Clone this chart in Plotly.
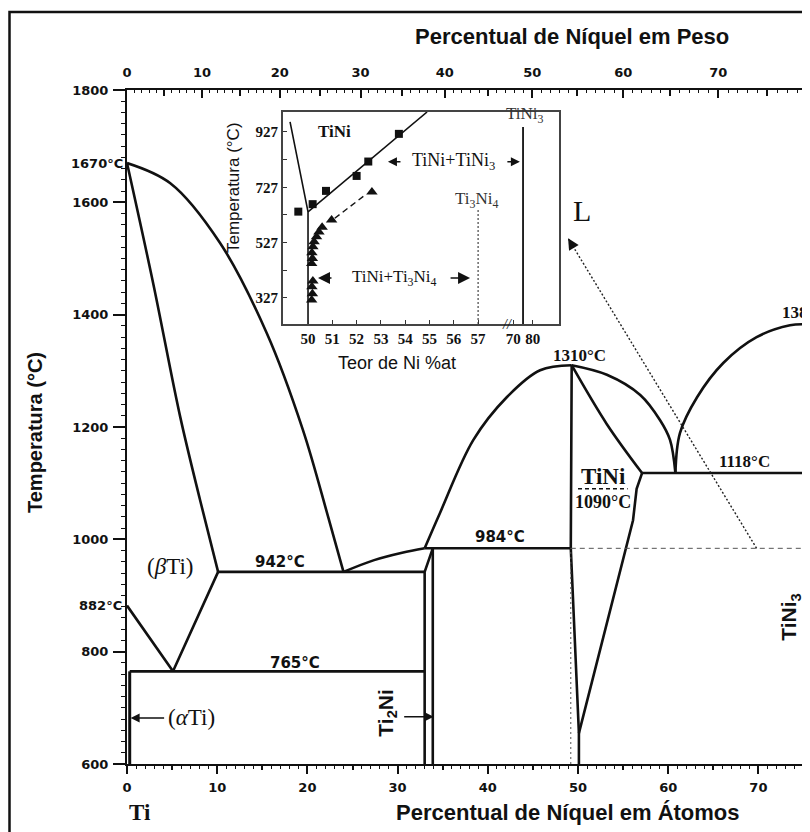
import numpy as np
import plotly.graph_objects as go

# ---------------- main diagram data: x = at.% Ni, T = °C ----------------
TI_LIQ_X = [0.0, 4.8, 10.3, 15.5, 19.5, 22.3, 24.0]
TI_LIQ_T = [1670, 1634, 1528, 1367, 1195, 1040, 942]
BTI_SOL_X = [0.0, 2.9, 5.9, 8.1, 10.1]
BTI_SOL_T = [1670, 1456, 1218, 1070, 942]
BTI_TRANSUS_X = [0.0, 5.1, 10.1]
BTI_TRANSUS_T = [882, 765, 942]
EUT_942_X = [10.1, 33.0]
EUT_942_T = [942, 942]
EUTD_765_X = [0.3, 33.0]
EUTD_765_T = [765, 765]
ATI_SOLVUS_X = [0.3, 0.3]
ATI_SOLVUS_T = [765, 600]
LIQ_TI2NI_X = [24.0, 27.4, 30.5, 33.0]
LIQ_TI2NI_T = [942, 963, 976, 984]
PER_984_X = [33.0, 49.2]
PER_984_T = [984, 984]
TI2NI_L_X = [33.0, 33.0, 33.9]
TI2NI_L_T = [600, 942, 984]
TI2NI_R_X = [33.9, 33.9]
TI2NI_R_T = [600, 984]
TINI_LIQ_L_X = [33.0, 34.7, 38.4, 42.1, 45.8, 49.3]
TINI_LIQ_L_T = [984, 1047, 1177, 1253, 1301, 1310]
TINI_L_X = [49.3, 49.2, 50.1, 50.1]
TINI_L_T = [1310, 984, 655, 600]
TINI_R_X = [50.1, 56.1, 56.5, 57.1]
TINI_R_T = [655, 1034, 1090, 1118]
TINI_SOL_X = [49.3, 53.2, 57.1]
TINI_SOL_T = [1310, 1205, 1118]
TINI_LIQ_R_X = [49.3, 53.2, 56.9, 59.1, 60.2, 60.8]
TINI_LIQ_R_T = [1310, 1293, 1257, 1212, 1177, 1118]
EUT_1118_X = [57.1, 75.0]
EUT_1118_T = [1118, 1118]
TINI3_LIQ_X = [60.8, 61.3, 63.2, 66.1, 69.8, 73.5, 75.0]
TINI3_LIQ_T = [1118, 1189, 1253, 1314, 1360, 1381, 1383]
TINI3_X = [75.0, 75.0]
TINI3_T = [600, 1383]
TINI3_STUB_X = [75.0, 75.72]
TINI3_STUB_T = [1307, 1307]
ORDER_1090_X = [50.0, 55.5]
ORDER_1090_T = [1090, 1090]
DASH_984_X = [49.2, 75.72]
DASH_984_T = [984, 984]
DOT_492_X = [49.2, 49.2]
DOT_492_T = [600, 984]
L_ARROW_X = [69.8, 48.9]
L_ARROW_T = [984, 1536]

# axes
X_RANGE = [0, 75.72]
T_RANGE = [600, 1800]
AT_TICKS = [0, 10, 20, 30, 40, 50, 60, 70]
T_TICKS = [600, 800, 1000, 1200, 1400, 1600, 1800]
WT_TICKS = [0, 10, 20, 30, 40, 50, 60, 70, 80]

# ---------------- inset data: x = at.% Ni, T = °C ----------------
INS_SOLV_L_X = [49.26, 50.0, 50.0]
INS_SOLV_L_T = [963, 638, 233]
INS_SOLV_R_X = [50.0, 54.9]
INS_SOLV_R_T = [638, 999]
INS_SQ_X = [49.6, 50.19, 50.74, 52.0, 52.48, 53.74]
INS_SQ_T = [639, 666, 714, 768, 820, 920]
INS_TRI_X = [52.63, 50.97, 50.58, 50.45, 50.35, 50.25, 50.2, 50.16, 50.18, 50.15, 50.2, 50.16, 50.18, 50.15]
INS_TRI_T = [710, 609, 583, 565, 548, 530, 512, 490, 470, 452, 388, 368, 342, 320]
INS_DASH_X = [51.1, 52.35]
INS_DASH_T = [615, 699]
INS_TI3NI4_X = [57, 57]
INS_TI3NI4_T = [645, 233]
INS_TINI3_X = [75, 75]
INS_TINI3_T = [945, 233]
INS_XTICKS = [50, 51, 52, 53, 54, 55, 56, 57, 70, 80]
INS_YTICKS = [327, 527, 727, 927]
INS_YMINOR = [427, 627, 827]
INS_X_RANGE = [48.97, 60.33]
INS_T_RANGE = [233, 999]
BREAK_REAL = [70, 80]
BREAK_DISP = [58.45, 59.25]
BREAK_MARK = 58.2

M_TI, M_NI = 47.867, 58.693


def wt_to_at(w):
    w = np.asarray(w, float)
    n = w / M_NI
    t = (100 - w) / M_TI
    return 100 * n / (n + t)


def inset_x(v):
    v = np.asarray(v, float)
    return np.where(v <= 57, v, np.interp(v, BREAK_REAL, BREAK_DISP))


# layout geometry (pixels); the page body adds an 8 px offset
OFF = 8
W, H = 810 - OFF, 832 - OFF
ML, MT, MB = 127 - OFF, 90 - OFF, 68
PW, PH = W - ML, H - MT - MB


def px(p):
    return (p - OFF - ML) / PW


def py(p):
    return (H - MB - (p - OFF)) / PH


BLACK = "#111111"
fig = go.Figure()


def line(x, y, width=2.6, dash="solid", spline=False, color=BLACK, xa="x", ya="y"):
    fig.add_trace(go.Scatter(
        x=x, y=y, mode="lines", xaxis=xa, yaxis=ya, cliponaxis=False,
        line=dict(color=color, width=width, dash=dash,
                  shape="spline" if spline else "linear", smoothing=1.0),
        hoverinfo="skip", showlegend=False))


line(TI_LIQ_X, TI_LIQ_T, spline=True)
line(BTI_SOL_X, BTI_SOL_T, spline=True)
line(BTI_TRANSUS_X, BTI_TRANSUS_T)
line(EUT_942_X, EUT_942_T)
line(EUTD_765_X, EUTD_765_T)
line(ATI_SOLVUS_X, ATI_SOLVUS_T, width=3)
line(LIQ_TI2NI_X, LIQ_TI2NI_T, spline=True)
line(PER_984_X, PER_984_T)
line(TI2NI_L_X, TI2NI_L_T)
line(TI2NI_R_X, TI2NI_R_T)
line(TINI_LIQ_L_X, TINI_LIQ_L_T, spline=True)
line(TINI_L_X, TINI_L_T)
line(TINI_R_X, TINI_R_T)
line(TINI_SOL_X, TINI_SOL_T, spline=True)
line(TINI_LIQ_R_X, TINI_LIQ_R_T, spline=True)
line(EUT_1118_X, EUT_1118_T)
line(TINI3_LIQ_X, TINI3_LIQ_T, spline=True)
line(TINI3_X, TINI3_T)
line(TINI3_STUB_X, TINI3_STUB_T, width=2)
line(ORDER_1090_X, ORDER_1090_T, width=1.6, dash="4px,3px")
line(DASH_984_X, DASH_984_T, width=1, dash="5px,4px", color="#555")
line(DOT_492_X, DOT_492_T, width=1, dash="2px,3px", color="#555")
line(L_ARROW_X, L_ARROW_T, width=1.4, dash="2px,2px", color="#222")

# inset
ix = dict(xa="x5", ya="y5")
line(inset_x(INS_SOLV_L_X), INS_SOLV_L_T, width=1.6, **ix)
line(inset_x(INS_SOLV_R_X), INS_SOLV_R_T, width=1.6, **ix)
line(inset_x(INS_DASH_X), INS_DASH_T, width=1.4, dash="6px,4px", **ix)
line(inset_x(INS_TI3NI4_X), INS_TI3NI4_T, width=1.2, dash="2px,2px", color="#444", **ix)
line(inset_x(INS_TINI3_X), INS_TINI3_T, width=1.8, **ix)
fig.add_trace(go.Scatter(x=inset_x(INS_SQ_X), y=INS_SQ_T, mode="markers", xaxis="x5", yaxis="y5",
                         marker=dict(symbol="square", size=8, color=BLACK), cliponaxis=False,
                         hoverinfo="skip", showlegend=False))
fig.add_trace(go.Scatter(x=inset_x(INS_TRI_X), y=INS_TRI_T, mode="markers", xaxis="x5", yaxis="y5",
                         marker=dict(symbol="triangle-up", size=10, color=BLACK), cliponaxis=False,
                         hoverinfo="skip", showlegend=False))

# dummy traces for the extra tick axes
for xa in ["x2", "x3", "x4"]:
    fig.add_trace(go.Scatter(x=[], y=[], xaxis=xa, yaxis="y", showlegend=False, hoverinfo="skip"))

TICKFONT = dict(family="DejaVu Sans", size=13, color=BLACK, weight="bold")
common = dict(showgrid=False, zeroline=False, range=X_RANGE)

fig.update_layout(
    width=W, height=H, margin=dict(l=ML, r=0, t=MT, b=MB),
    paper_bgcolor="white", plot_bgcolor="white", showlegend=False,
    xaxis=dict(**common, tickmode="array", tickvals=AT_TICKS, ticks="outside", ticklen=8,
               tickwidth=2, tickcolor=BLACK, showline=True, linewidth=2, linecolor=BLACK,
               tickfont=TICKFONT, ticklabelstandoff=2,
               minor=dict(dtick=1, ticks="outside", ticklen=3, tickwidth=1, tickcolor=BLACK)),
    xaxis4=dict(**common, overlaying="x", side="bottom", anchor="y", tickmode="array",
                tickvals=[v + 5 for v in AT_TICKS], ticks="outside", ticklen=5, tickwidth=1.5,
                tickcolor=BLACK, showticklabels=False, showline=False),
    xaxis2=dict(**common, overlaying="x", side="top", anchor="y", tickmode="array",
                tickvals=wt_to_at(WT_TICKS), ticktext=[str(v) for v in WT_TICKS],
                ticks="inside", ticklen=8, tickwidth=2, tickcolor=BLACK, showline=True,
                linewidth=2, linecolor=BLACK, tickfont=TICKFONT, ticklabelstandoff=6,
                minor=dict(tickmode="array", tickvals=wt_to_at(np.arange(1, 80)), ticks="inside",
                           ticklen=3, tickwidth=1, tickcolor=BLACK)),
    xaxis3=dict(**common, overlaying="x", side="top", anchor="y", tickmode="array",
                tickvals=wt_to_at([v + 5 for v in WT_TICKS[:-1]]), ticks="inside", ticklen=6,
                tickwidth=1.5, tickcolor=BLACK, showticklabels=False, showline=False),
    yaxis=dict(range=T_RANGE, showgrid=False, zeroline=False, tickmode="array", tickvals=T_TICKS,
               ticks="outside", ticklen=12, tickwidth=2, tickcolor=BLACK, showline=True,
               linewidth=2, linecolor=BLACK, tickfont=TICKFONT, ticklabelstandoff=2,
               minor=dict(dtick=20, ticks="outside", ticklen=4, tickwidth=1, tickcolor=BLACK)),
    xaxis5=dict(domain=[px(283), px(559)], anchor="y5", range=INS_X_RANGE, showgrid=False,
                zeroline=False, tickmode="array", tickvals=inset_x(INS_XTICKS),
                ticktext=[str(v) for v in INS_XTICKS], ticks="inside", ticklen=4, tickwidth=1.2,
                tickcolor="#333", showline=True, mirror=True, linewidth=2, linecolor="#444",
                tickfont=dict(family="Liberation Serif", size=15, color=BLACK, weight="bold"),
                ticklabelstandoff=0),
    yaxis5=dict(domain=[py(324), py(112)], anchor="x5", range=INS_T_RANGE, showgrid=False,
                zeroline=False, tickmode="array", tickvals=INS_YTICKS, ticks="inside", ticklen=4,
                tickwidth=1.2, tickcolor="#333", showline=True, mirror=True, linewidth=2,
                linecolor="#444",
                tickfont=dict(family="Liberation Serif", size=15, color=BLACK, weight="bold"),
                minor=dict(tickmode="array", tickvals=INS_YMINOR, ticks="inside", ticklen=4,
                           tickwidth=1.2, tickcolor="#333")),
)

# outer frame (left edge kept inside the figure area)
fig.add_shape(type="rect", xref="paper", yref="paper", x0=px(9.5), x1=px(840), y0=py(860), y1=py(12),
              line=dict(color=BLACK, width=2.5), fillcolor="rgba(0,0,0,0)")

SERIF = "Liberation Serif"
SANS = "Liberation Sans"
DV = "DejaVu Sans"


def txt(x, y, s, family, size, xref="x", yref="y", angle=0, xanchor="center", xshift=0, color=BLACK):
    fig.add_annotation(x=x, y=y, xref=xref, yref=yref, text=s, showarrow=False, textangle=angle,
                       xanchor=xanchor, yanchor="middle", xshift=xshift,
                       font=dict(family=family, size=size, color=color))


def arrow(x, y, ax, ay, xref="x", yref="y", size=1.2, width=1.5):
    fig.add_annotation(x=x, y=y, xref=xref, yref=yref, ax=ax, ay=ay, text="", showarrow=True,
                       arrowhead=2, arrowsize=size, arrowwidth=width, arrowcolor=BLACK)


# titles (paper)
txt(px(572), py(37), "<b>Percentual de Níquel em Peso</b>", SANS, 22, "paper", "paper")
txt(px(568), py(812), "<b>Percentual de Níquel em Átomos</b>", SANS, 22, "paper", "paper")
txt(px(140), py(812), "<b>Ti</b>", SERIF, 23, "paper", "paper")
txt(px(35), py(433), "<b>Temperatura (°C)</b>", SANS, 20, "paper", "paper", angle=-90)

# left special labels
txt(0, 1670, "<b>1670°C</b>", DV, 13, xanchor="right", xshift=-2)
txt(0, 882, "<b>882°C</b>", DV, 13, xanchor="right", xshift=-3)

# main diagram labels
txt(4.77, 951, "(<i>β</i>Ti)", SERIF, 23)
txt(16.96, 960, "<b>942°C</b>", DV, 15)
txt(18.6, 780, "<b>765°C</b>", DV, 15)
txt(41.35, 1004, "<b>984°C</b>", DV, 15)
txt(50.2, 1328, "<b>1310°C</b>", SERIF, 17)
txt(68.5, 1138, "<b>1118°C</b>", SERIF, 17)
txt(52.8, 1111, "<b>TiNi</b>", SERIF, 23)
txt(52.8, 1066, "<b>1090°C</b>", SERIF, 18)
txt(72.35, 1403, "<b>1380°C</b>", SERIF, 17, xanchor="left")
txt(50.4, 1586, "L", SERIF, 30)
txt(7.2, 682, "(<i>α</i>Ti)", SERIF, 23)
txt(28.8, 691, "<b>Ti<sub>2</sub>Ni</b>", SANS, 21, angle=-90)
txt(73.5, 862, "<b>TiNi<sub>3</sub></b>", SANS, 21, angle=-90)

arrow(0.4, 682, 35, 0)
arrow(34.0, 684, -31, 0)
arrow(L_ARROW_X[1], L_ARROW_T[1], 6.2, 10.3, size=1.6, width=1.4)

# inset labels
txt(px(233), py(188), "Temperatura (°C)", SANS, 17, "paper", "paper", angle=-90)
txt(px(397), py(363), "Teor de Ni %at", SANS, 18, "paper", "paper")
xi = dict(xref="x5", yref="y5")
txt(51.11, 927, "<b>TiNi</b>", SERIF, 17, **xi)
txt(55.97, 819, "TiNi+TiNi<sub>3</sub>", SERIF, 18, **xi)
txt(56.95, 681, "Ti<sub>3</sub>Ni<sub>4</sub>", SERIF, 17, color="#333", **xi)
txt(58.93, 988, "TiNi<sub>3</sub>", SERIF, 17, color="#333", **xi)
txt(53.55, 399, "TiNi+Ti<sub>3</sub>Ni<sub>4</sub>", SERIF, 17, **xi)
txt(BREAK_MARK, INS_T_RANGE[0], "<i>//</i>", SERIF, 14, **xi)
arrow(53.29, 819, 14, 0, **xi)
arrow(58.72, 819, -14, 0, **xi)
arrow(50.41, 399, 15, 0, size=1.6, **xi)
arrow(56.67, 399, -21, 0, size=1.6, **xi)

fig.write_html("out.html")
